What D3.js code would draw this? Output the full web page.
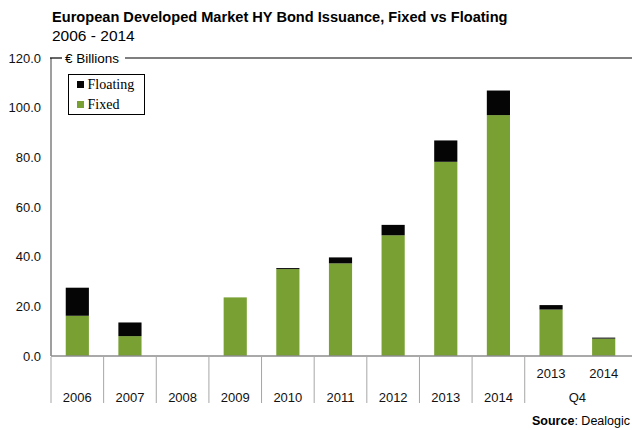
<!DOCTYPE html>
<html>
<head>
<meta charset="utf-8">
<script src="https://cdn.jsdelivr.net/npm/d3@7"></script>
<style>
  body { margin: 0; background: #fff; }
  svg { display: block; font-family: "Liberation Sans", Arial, sans-serif; }
</style>
</head>
<body>
<div id="chart"></div>
<script>
// values, € billions
var categories = ["2006", "2007", "2008", "2009", "2010", "2011", "2012", "2013", "2014", "Q4 2013", "Q4 2014"];
var fixed    = [16.2, 8.0, 0, 23.6, 35.0, 37.3, 48.6, 78.2, 97.0, 18.7, 7.0];
var floating = [11.3, 5.5, 0, 0, 0.4, 2.4, 4.2, 8.6, 9.9, 1.8, 0.4];
var yTicks = [0, 20, 40, 60, 80, 100, 120];

var width = 632, height = 430;
var green = "#78a032", black = "#050505";

var svg = d3.select("#chart").append("svg")
    .attr("width", width)
    .attr("height", height);

var x = d3.scaleBand()
    .domain(categories)
    .range([51, 630])
    .paddingInner(0.56)
    .paddingOuter(0.28);

var y = d3.scaleLinear()
    .domain([0, 120])
    .range([356, 58]);

var rows = categories.map(function(c, i) {
  return { cat: c, fixed: fixed[i], floating: floating[i] };
});
var series = d3.stack().keys(["fixed", "floating"])(rows);
var colour = d3.scaleOrdinal().domain(["fixed", "floating"]).range([green, black]);

// title
svg.append("text")
    .attr("x", 52).attr("y", 21.5)
    .style("font-size", "14.6px").style("font-weight", "bold")
    .text("European Developed Market HY Bond Issuance, Fixed vs Floating");
svg.append("text")
    .attr("x", 52).attr("y", 40.5)
    .style("font-size", "15.5px")
    .text("2006 - 2014");

// y axis labels
var yAxis = svg.append("g")
    .attr("transform", "translate(41,0)")
    .call(d3.axisLeft(y).tickValues(yTicks).tickSize(0).tickPadding(0).tickFormat(d3.format(".1f")));
yAxis.select(".domain").remove();
yAxis.selectAll("text")
    .style("font-size", "13px")
    .style("font-family", "'Liberation Sans', Arial, sans-serif")
    .attr("fill", "#111");

// bars
svg.append("g").selectAll("g")
    .data(series)
    .join("g")
      .attr("fill", function(d) { return colour(d.key); })
    .selectAll("rect")
    .data(function(d) { return d.filter(function(s) { return s[1] - s[0] > 0; }); })
    .join("rect")
      .attr("x", function(d) { return x(d.data.cat); })
      .attr("width", x.bandwidth())
      .attr("y", function(d) { return y(d[1]); })
      .attr("height", function(d) { return y(d[0]) - y(d[1]); });

// frame: left axis, baseline, top line with unit label
svg.append("line")
    .attr("x1", 51).attr("x2", 51).attr("y1", y(120)).attr("y2", y(0))
    .attr("stroke", "#7f7f7f").attr("stroke-width", 1.5);
svg.append("line")
    .attr("x1", 51).attr("x2", 632).attr("y1", y(0)).attr("y2", y(0))
    .attr("stroke", "#8c8c8c").attr("stroke-width", 1.5);
svg.append("line")
    .attr("x1", 50).attr("x2", 62).attr("y1", y(120)).attr("y2", y(120))
    .attr("stroke", "#000").attr("stroke-width", 1.2);
svg.append("line")
    .attr("x1", 125).attr("x2", 632).attr("y1", y(120)).attr("y2", y(120))
    .attr("stroke", "#000").attr("stroke-width", 1.2);
svg.append("text")
    .attr("x", 65).attr("y", y(120) + 4.5)
    .style("font-size", "13.5px")
    .text("€ Billions");

// category dividers and labels
var step = x.step();
var dividers = categories.map(function(c) { return x(c) - x.paddingOuter() * step; })
    .filter(function(d, i) { return categories[i] !== "Q4 2014"; });
svg.append("g").selectAll("line")
    .data(dividers)
    .join("line")
      .attr("x1", function(d) { return d; }).attr("x2", function(d) { return d; })
      .attr("y1", y(0) + 1).attr("y2", 403)
      .attr("stroke", "#a6a6a6").attr("stroke-width", 1);

var labels = svg.append("g").style("font-size", "13px").attr("text-anchor", "middle").attr("fill", "#111");
categories.forEach(function(c) {
  var cx = x(c) + x.bandwidth() / 2;
  if (c.indexOf("Q4") === 0) {
    labels.append("text").attr("x", cx).attr("y", 378).text(c.split(" ")[1]);
  } else {
    labels.append("text").attr("x", cx).attr("y", 401.5).text(c);
  }
});
var q4mid = (x("Q4 2013") + x("Q4 2014") + x.bandwidth()) / 2;
labels.append("text").attr("x", q4mid).attr("y", 401.5).text("Q4");

// legend
var legend = svg.append("g");
legend.append("rect")
    .attr("x", 68.5).attr("y", 74.5).attr("width", 76).attr("height", 40)
    .attr("fill", "#fff").attr("stroke", "#000").attr("stroke-width", 1);
[["Floating", black], ["Fixed", green]].forEach(function(d, i) {
  legend.append("rect")
      .attr("x", 77).attr("y", 81 + i * 20).attr("width", 7).attr("height", 7)
      .attr("fill", d[1]);
  legend.append("text")
      .attr("x", 87.5).attr("y", 89 + i * 19.5)
      .style("font-family", "'Liberation Serif', 'Times New Roman', serif")
      .style("font-size", "14px")
      .text(d[0]);
});

// source
var src = svg.append("text")
    .attr("x", 630).attr("y", 424.5)
    .attr("text-anchor", "end")
    .style("font-size", "12.5px");
src.append("tspan").style("font-weight", "bold").text("Source");
src.append("tspan").text(": Dealogic");
</script>
</body>
</html>
